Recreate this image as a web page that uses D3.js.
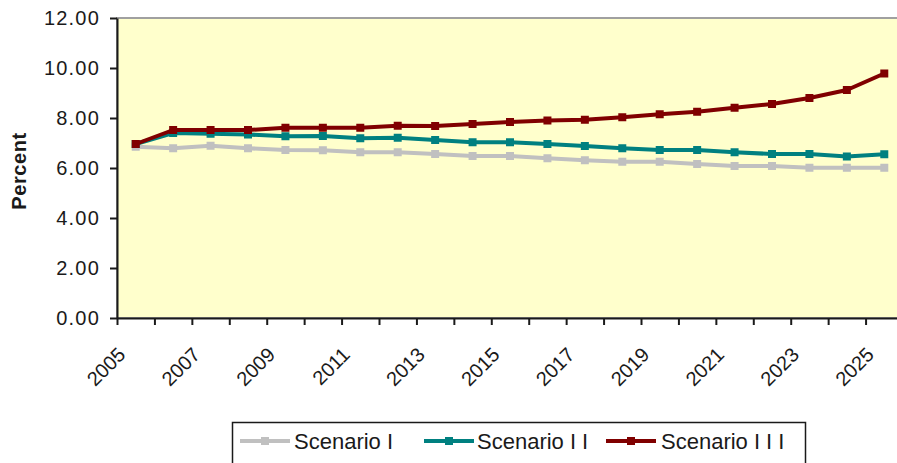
<!DOCTYPE html>
<html>
<head>
<meta charset="utf-8">
<script src="https://cdn.jsdelivr.net/npm/d3@7"></script>
<style>
  html, body { margin: 0; padding: 0; background: #ffffff; }
  svg { display: block; font-family: "Liberation Sans", Arial, sans-serif; }
</style>
</head>
<body>
<svg id="chart" width="897" height="463"></svg>
<script>
// Projected rates by year, three scenarios
const years = d3.range(2005, 2026);
const scenarioI   = [6.85, 6.79, 6.89, 6.79, 6.72, 6.71, 6.63, 6.63, 6.56, 6.48, 6.48, 6.39, 6.31, 6.25, 6.25, 6.16, 6.08, 6.08, 6.01, 6.01, 6.01];
const scenarioII  = [6.96, 7.40, 7.37, 7.34, 7.27, 7.28, 7.19, 7.21, 7.12, 7.03, 7.03, 6.96, 6.88, 6.79, 6.72, 6.72, 6.63, 6.56, 6.56, 6.46, 6.55];
const scenarioIII = [6.96, 7.52, 7.52, 7.52, 7.61, 7.61, 7.61, 7.69, 7.68, 7.76, 7.84, 7.90, 7.93, 8.03, 8.15, 8.25, 8.41, 8.56, 8.80, 9.12, 9.78];
const seriesNames = ["Scenario I", "Scenario II", "Scenario III"];
const yTicks = [0, 2, 4, 6, 8, 10, 12];
const xLabelYears = d3.range(2005, 2026, 2);

const seriesColors = ["#c0c0c0", "#008080", "#800000"];
const series = [scenarioI, scenarioII, scenarioIII].map((vals, i) => ({
  name: seriesNames[i], color: seriesColors[i],
  points: vals.map((v, j) => ({ year: years[j], value: v }))
}));

const svg = d3.select("#chart");
const plot = { left: 117, right: 903, top: 18, bottom: 318 };

const x = d3.scaleBand().domain(years).range([plot.left, plot.right]).paddingInner(0).paddingOuter(0);
const xEdge = d3.scaleLinear().domain([0, years.length]).range([plot.left, plot.right]);
const y = d3.scaleLinear().domain([0, 12]).range([plot.bottom, plot.top]);
const cx = d => x(d) + x.bandwidth() / 2;

// Plot area
svg.append("rect")
  .attr("x", plot.left).attr("y", plot.top)
  .attr("width", plot.right - plot.left).attr("height", plot.bottom - plot.top)
  .attr("fill", "#ffffcc").attr("stroke", "#a0a0a0").attr("stroke-width", 2);

// Y axis
const yAxis = svg.append("g")
  .attr("transform", `translate(${plot.left},0)`)
  .call(d3.axisLeft(y).tickValues(yTicks).tickFormat(d3.format(".2f")).tickSizeInner(7).tickSizeOuter(0).tickPadding(10));
yAxis.select(".domain").attr("stroke", "#1a1a1a").attr("stroke-width", 2);
yAxis.selectAll(".tick line").attr("stroke", "#1a1a1a").attr("stroke-width", 2);
yAxis.selectAll(".tick text").attr("font-size", 20).attr("letter-spacing", 1.2)
  .attr("fill", "#1a1a1a").attr("font-family", "Liberation Sans, Arial, sans-serif");

// X axis: tick marks between categories
const xAxis = svg.append("g")
  .attr("transform", `translate(0,${plot.bottom})`)
  .call(d3.axisBottom(xEdge).tickValues(d3.range(years.length + 1)).tickFormat("").tickSizeInner(7).tickSizeOuter(0));
xAxis.select(".domain").attr("stroke", "#1a1a1a").attr("stroke-width", 2);
xAxis.selectAll(".tick line").attr("stroke", "#1a1a1a").attr("stroke-width", 2);

// Rotated year labels
svg.append("g").selectAll("text")
  .data(xLabelYears)
  .join("text")
  .attr("transform", d => `translate(${cx(d) - 19},${plot.bottom + 28}) rotate(-45)`)
  .attr("text-anchor", "end")
  .attr("dy", "0.7em")
  .attr("font-size", 20)
  .attr("fill", "#1a1a1a")
  .text(d => d);

// Y axis title
svg.append("text")
  .attr("transform", `translate(26,${(plot.top + plot.bottom) / 2 + 3}) rotate(-90)`)
  .attr("text-anchor", "middle")
  .attr("font-size", 20)
  .attr("letter-spacing", 0.6)
  .attr("font-weight", "bold")
  .attr("fill", "#1a1a1a")
  .text("Percent");

// Series lines and markers
const line = d3.line().x(d => cx(d.year)).y(d => y(d.value));
const ms = 8;
series.forEach(s => {
  const g = svg.append("g");
  g.append("path").datum(s.points)
    .attr("d", line).attr("fill", "none")
    .attr("stroke", s.color).attr("stroke-width", 4).attr("stroke-linejoin", "round");
  g.selectAll("rect").data(s.points).join("rect")
    .attr("x", d => cx(d.year) - ms / 2).attr("y", d => y(d.value) - ms / 2)
    .attr("width", ms).attr("height", ms).attr("fill", s.color);
});

// Legend
const legend = svg.append("g");
legend.append("rect")
  .attr("x", 232.5).attr("y", 422.5).attr("width", 573).attr("height", 60)
  .attr("fill", "#ffffff").attr("stroke", "#1a1a1a").attr("stroke-width", 1.5);
const legendItems = [
  { x: 240, textX: 294 },
  { x: 424, textX: 477 },
  { x: 606, textX: 661 }
];
series.forEach((s, i) => {
  const it = legendItems[i];
  const ly = 441;
  legend.append("line")
    .attr("x1", it.x).attr("x2", it.x + 50).attr("y1", ly).attr("y2", ly)
    .attr("stroke", s.color).attr("stroke-width", 4);
  legend.append("rect")
    .attr("x", it.x + 25 - ms / 2).attr("y", ly - ms / 2).attr("width", ms).attr("height", ms)
    .attr("fill", s.color);
  const parts = s.name.split(" ");
  const t = legend.append("text")
    .attr("x", it.textX).attr("y", ly).attr("dy", "0.36em")
    .attr("font-size", 22).attr("fill", "#1a1a1a");
  t.append("tspan").text(parts[0] + " ");
  t.append("tspan").attr("letter-spacing", 6).text(parts[1]);
});
</script>
</body>
</html>
